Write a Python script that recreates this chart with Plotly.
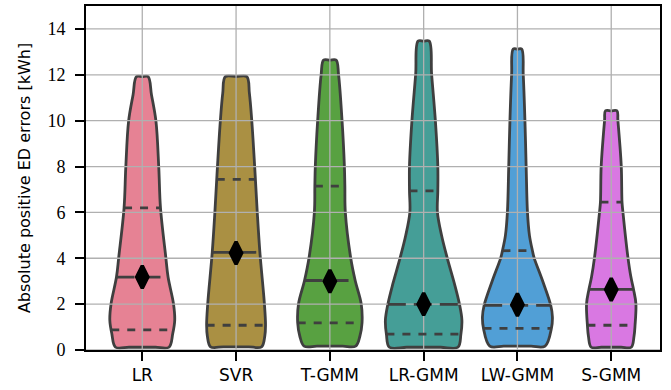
import colorsys
import numpy as np
import plotly.graph_objects as go

# ---------------- data ----------------
categories = ["LR", "SVR", "T-GMM", "LR-GMM", "LW-GMM", "S-GMM"]

# violin outline: y levels [kWh] and half-widths (in category units)
lr_y = [0.12, 0.72, 1.30, 2.01, 3.18, 4.04, 6.21, 7.95, 9.97, 11.13, 11.92]
lr_w = [0.285, 0.325, 0.346, 0.333, 0.275, 0.251, 0.194, 0.176, 0.146, 0.098, 0.062]

svr_y = [0.14, 0.60, 1.08, 2.02, 4.26, 6.00, 7.95, 9.97, 11.20, 11.92]
svr_w = [0.272, 0.306, 0.314, 0.302, 0.254, 0.226, 0.199, 0.168, 0.142, 0.114]

tgmm_y = [0.17, 0.60, 1.18, 2.02, 3.03, 4.02, 6.00, 7.15, 8.02, 10.00, 12.00, 12.64]
tgmm_w = [0.275, 0.320, 0.343, 0.334, 0.270, 0.222, 0.165, 0.160, 0.155, 0.130, 0.093, 0.067]

lrgmm_y = [0.12, 0.69, 1.30, 1.99, 2.89, 3.97, 4.98, 6.00, 6.94, 8.02, 10.00, 12.02, 13.47]
lrgmm_w = [0.365, 0.397, 0.408, 0.382, 0.328, 0.254, 0.192, 0.147, 0.151, 0.151, 0.125, 0.085, 0.059]

lwgmm_y = [0.17, 0.94, 1.44, 1.95, 3.03, 4.02, 4.33, 5.00, 6.00, 7.98, 10.00, 12.00, 13.12]
lwgmm_w = [0.295, 0.362, 0.373, 0.355, 0.267, 0.178, 0.160, 0.128, 0.107, 0.093, 0.080, 0.062, 0.045]

sgmm_y = [0.12, 0.60, 1.08, 2.02, 2.64, 3.18, 4.04, 6.00, 6.45, 8.02, 10.01, 10.43]
sgmm_w = [0.213, 0.243, 0.254, 0.263, 0.238, 0.210, 0.178, 0.125, 0.115, 0.107, 0.071, 0.061]

profiles_y = [lr_y, svr_y, tgmm_y, lrgmm_y, lwgmm_y, sgmm_y]
profiles_w = [lr_w, svr_w, tgmm_w, lrgmm_w, lwgmm_w, sgmm_w]

q1 = [0.88, 1.08, 1.18, 0.69, 0.94, 1.08]
medians = [3.18, 4.26, 3.03, 1.99, 1.95, 2.64]
q3 = [6.20, 7.44, 7.15, 6.94, 4.33, 6.45]
means = [3.18, 4.23, 3.00, 2.00, 1.97, 2.64]

yticks = [0, 2, 4, 6, 8, 10, 12, 14]

# ---------------- styling ----------------
base_colors = ["#f77189", "#bb9832", "#50b131", "#36ada4", "#3ba3ec", "#e866f4"]


def desaturate(hx, prop=0.75):
    r, g, b = (int(hx[k:k + 2], 16) / 255 for k in (1, 3, 5))
    h, l, s = colorsys.rgb_to_hls(r, g, b)
    r, g, b = colorsys.hls_to_rgb(h, l, s * prop)
    return "#%02x%02x%02x" % (round(r * 255), round(g * 255), round(b * 255))


colors = [desaturate(c) for c in base_colors]
edge = "#3f3f3f"
XR = [-0.6, 5.52]
YR = [0, 15]

fig = go.Figure()

# violin bodies
for i, (ys, ws) in enumerate(zip(profiles_y, profiles_w)):
    ys = np.array(ys)
    ws = np.array(ws)
    xs = ([i, i + 0.5 * ws[0]] + list(i + ws) + [i] + list(i - ws[::-1]) + [i - 0.5 * ws[0], i])
    yv = ([ys[0], ys[0]] + list(ys) + [ys[-1]] + list(ys[::-1]) + [ys[0], ys[0]])
    fig.add_trace(go.Scatter(
        x=xs, y=yv, mode="lines", fill="toself", fillcolor=colors[i],
        line=dict(color=edge, width=2.8, shape="spline", smoothing=1.0),
        hoverinfo="skip", showlegend=False))

# grid (drawn above the bodies, like the reference)
gx, gy = [], []
for t in yticks:
    gx += [XR[0], XR[1], None]
    gy += [t, t, None]
for i in range(len(categories)):
    gx += [i, i, None]
    gy += [YR[0], YR[1], None]
fig.add_trace(go.Scatter(x=gx, y=gy, mode="lines",
                         line=dict(color="#b0b0b0", width=1.3),
                         hoverinfo="skip", showlegend=False))

# quartile and median lines
for i in range(len(categories)):
    for val, dash in ((q1[i], "8px,8px"), (q3[i], "8px,8px"), (medians[i], "18px,8px")):
        hw = float(np.interp(val, profiles_y[i], profiles_w[i]))
        fig.add_trace(go.Scatter(
            x=[i - hw, i + hw], y=[val, val], mode="lines",
            line=dict(color=edge, width=2.8, dash=dash),
            hoverinfo="skip", showlegend=False))

# diamond markers
fig.add_trace(go.Scatter(
    x=list(range(len(categories))), y=means, mode="markers",
    marker=dict(symbol="diamond-tall", size=16, color="black",
                line=dict(color="black", width=3.5)),
    hoverinfo="skip", showlegend=False))

fig.update_layout(
    width=671, height=390,
    margin=dict(l=86, r=11, t=4, b=40),
    plot_bgcolor="white", paper_bgcolor="white",
    showlegend=False,
    xaxis=dict(
        range=XR, tickmode="array", tickvals=list(range(len(categories))),
        ticktext=categories, showgrid=False, zeroline=False,
        showline=True, mirror=True, linecolor="black", linewidth=1.8,
        ticks="outside", ticklen=9, tickwidth=1.5, tickcolor="black",
        tickfont=dict(family="DejaVu Sans", size=17, color="black"),
    ),
    yaxis=dict(
        range=YR, tickmode="array", tickvals=yticks,
        showgrid=False, zeroline=False,
        showline=True, mirror=True, linecolor="black", linewidth=1.8,
        ticks="outside", ticklen=9, tickwidth=1.5, tickcolor="black",
        ticklabelstandoff=6,
        tickfont=dict(family="Liberation Serif, DejaVu Serif, serif", size=18, color="black"),
        title=dict(text="Absolute positive ED errors [kWh]", standoff=13,
                   font=dict(family="DejaVu Sans", size=16, color="black")),
    ),
)

fig.write_html("out.html", config={"displayModeBar": False},
               post_script="document.body.style.margin='0';")
